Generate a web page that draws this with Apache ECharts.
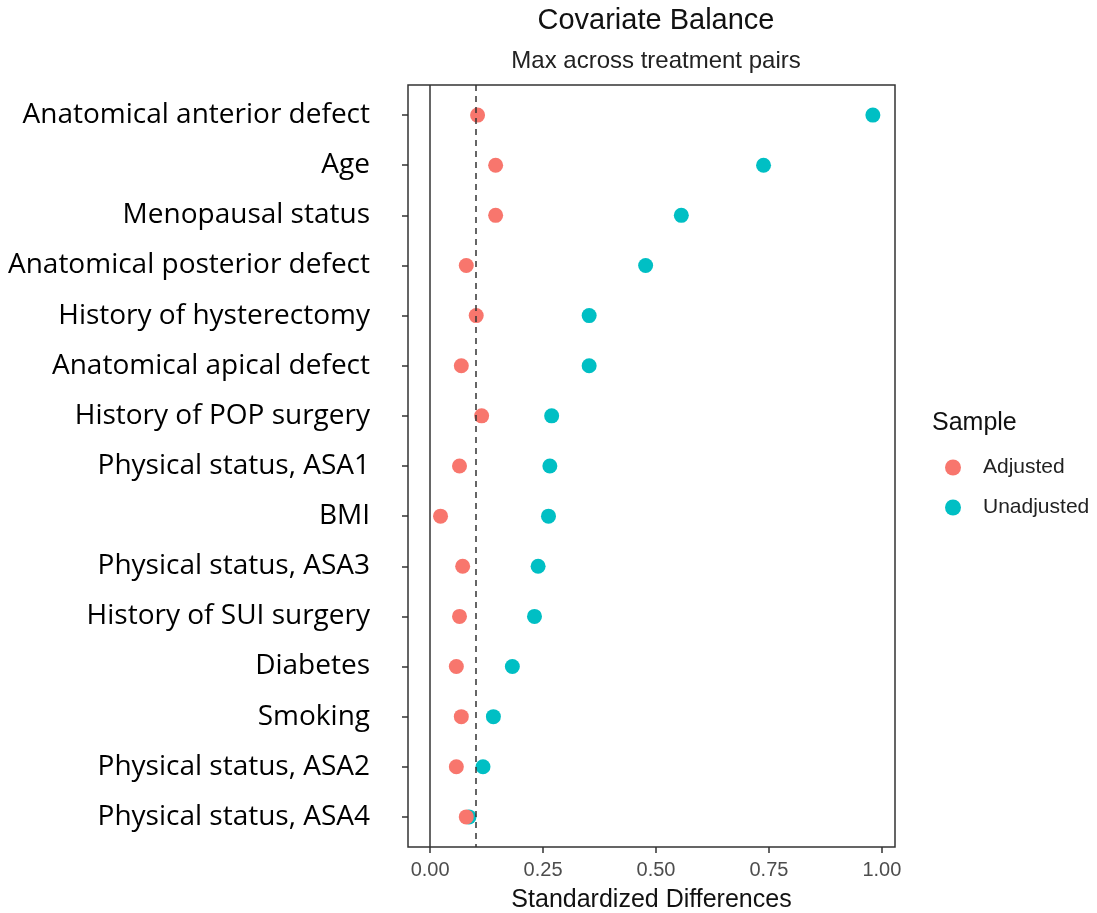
<!DOCTYPE html>
<html>
<head>
<meta charset="utf-8">
<script src="https://cdn.jsdelivr.net/npm/echarts@6/dist/echarts.min.js"></script>
<style>html,body{margin:0;padding:0;background:#fff}#c{width:1097px;height:913px}</style>
</head>
<body>
<div id="c"></div>
<script>
const categories = [
  "Anatomical anterior defect","Age","Menopausal status","Anatomical posterior defect",
  "History of hysterectomy","Anatomical apical defect","History of POP surgery",
  "Physical status, ASA1","BMI","Physical status, ASA3","History of SUI surgery",
  "Diabetes","Smoking","Physical status, ASA2","Physical status, ASA4"
];
const adjusted = [0.105,0.145,0.145,0.080,0.102,0.069,0.114,0.065,0.023,0.072,0.065,0.058,0.069,0.058,0.080];
const unadjusted = [0.980,0.738,0.556,0.477,0.352,0.352,0.269,0.265,0.262,0.239,0.231,0.182,0.140,0.117,0.086];
const xTicks = [0, 0.25, 0.5, 0.75, 1.0];
const threshold = 0.1;

const chart = echarts.init(document.getElementById('c'));
const toPts = arr => arr.map((v, i) => [v, i]);
const tickIdx = categories.map((_, i) => i);

chart.setOption({
  animation: false,
  title: [
    { text: 'Covariate Balance', left: 651, top: 1, textAlign: 'center',
      textStyle: { fontFamily: 'Liberation Sans', fontSize: 29, fontWeight: 'normal', color: '#111' } },
    { text: 'Max across treatment pairs', left: 651, top: 44, textAlign: 'center',
      textStyle: { fontFamily: 'Liberation Sans', fontSize: 24, fontWeight: 'normal', color: '#222' } },
    { text: 'Sample', left: 927, top: 406,
      textStyle: { fontFamily: 'Liberation Sans', fontSize: 25, fontWeight: 'normal', color: '#111' } }
  ],
  legend: {
    orient: 'vertical', left: 940, top: 452, itemGap: 19,
    icon: 'circle', itemWidth: 16, itemHeight: 16,
    data: ['Adjusted', 'Unadjusted'],
    textStyle: { fontFamily: 'Liberation Sans', fontSize: 21, color: '#222', padding: [0,0,0,17] }
  },
  grid: { left: 408, right: 202, top: 85, bottom: 66, show: true, outerBoundsMode: 'none',
          containLabel: false,
          borderColor: '#333', borderWidth: 1.5, backgroundColor: '#fff' },
  xAxis: {
    type: 'value', min: -0.049, max: 1.029,
    name: 'Standardized Differences', nameLocation: 'middle', nameGap: 41,
    nameTextStyle: { fontFamily: 'Liberation Sans', fontSize: 25, color: '#111' },
    axisLine: { show: false, onZero: false },
    axisTick: { show: true, length: 6, customValues: xTicks, lineStyle: { color: '#333', width: 1.5 } },
    axisLabel: { customValues: xTicks, formatter: v => v.toFixed(2), margin: 13,
      fontFamily: 'Liberation Sans', fontSize: 20, color: '#4d4d4d' },
    splitLine: { show: false }
  },
  yAxis: {
    type: 'value', min: -0.6, max: 14.6, inverse: true,
    axisLine: { show: false, onZero: false },
    axisTick: { show: true, length: 6, customValues: tickIdx, lineStyle: { color: '#333', width: 1.5 } },
    axisLabel: { customValues: tickIdx, formatter: v => categories[Math.round(v)] || '', margin: 38,
      fontFamily: 'Open Sans', fontSize: 28, color: '#000' },
    splitLine: { show: false }
  },
  series: [
    { name: 'Unadjusted', type: 'scatter', data: toPts(unadjusted), symbolSize: 15, z: 3,
      itemStyle: { color: '#00BFC4', opacity: 1 },
      markLine: { silent: true, symbol: 'none', label: { show: false },
        data: [
          { xAxis: 0, lineStyle: { color: '#333', type: 'solid', width: 1.5 } },
          { xAxis: threshold, lineStyle: { color: '#333', type: [6, 5], width: 1.5 } }
        ] } },
    { name: 'Adjusted', type: 'scatter', data: toPts(adjusted), symbolSize: 15, z: 4,
      itemStyle: { color: '#F8766D', opacity: 1 } }
  ]
});
</script>
</body>
</html>
